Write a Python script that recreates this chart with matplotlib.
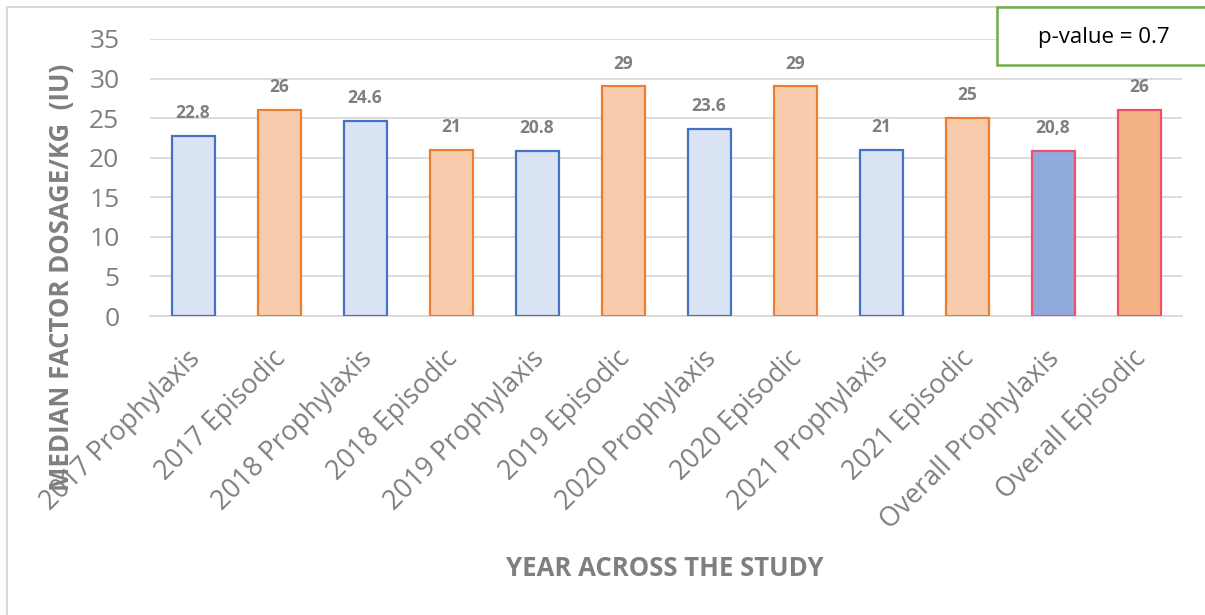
import numpy as np
import matplotlib
matplotlib.use("Agg")
import matplotlib.pyplot as plt
import matplotlib.transforms as mtransforms
from matplotlib.patches import Rectangle
from matplotlib.lines import Line2D

plt.rcParams['font.family'] = ['Open Sans', 'DejaVu Sans']

# median factor dosage per kg, by year and treatment regimen
categories = ["2017 Prophylaxis", "2017 Episodic", "2018 Prophylaxis", "2018 Episodic",
              "2019 Prophylaxis", "2019 Episodic", "2020 Prophylaxis", "2020 Episodic",
              "2021 Prophylaxis", "2021 Episodic", "Overall Prophylaxis", "Overall Episodic"]
values = [22.8, 26, 24.6, 21, 20.8, 29, 23.6, 29, 21, 25, 20.8, 26]
decimal_sep = [".", ".", ".", ".", ".", ".", ".", ".", ".", ".", ",", "."]
p_value = 0.7

fills = ["#dae3f3", "#f8cbad"] * 5 + ["#8faadc", "#f4b183"]
edges = ["#4472c4", "#ed7d31"] * 5 + ["#f0506a", "#f0506a"]
grey = "#7f7f7f"

W, H = 1205, 615
fig = plt.figure(figsize=(W / 100, H / 100), dpi=100)
ax = fig.add_axes([150 / W, 1 - 316 / H, (1182 - 150) / W, (316 - 39) / H])

x = np.arange(len(values))
ax.bar(x, values, width=0.5, color=fills, edgecolor=edges, linewidth=1.6, zorder=3)

for xi, v, sep in zip(x, values, decimal_sep):
    txt = f"{v:g}".replace(".", sep)
    ax.annotate(txt, (xi, v), xytext=(0, 16.5), textcoords="offset points",
                ha="center", va="center", fontsize=12.5, fontweight="bold", color=grey)

ax.set_xlim(-0.5, len(values) - 0.5)
ax.set_ylim(0, 35)
ax.set_yticks(np.arange(0, 36, 5))
ax.yaxis.grid(True, color="#d9d9d9", linewidth=1.3, zorder=0)
for s in ["left", "right", "top"]:
    ax.spines[s].set_visible(False)
ax.spines["bottom"].set_color("#d9d9d9")
ax.spines["bottom"].set_linewidth(1.3)
ax.tick_params(axis="both", length=0, colors=grey)
ax.tick_params(axis="y", labelsize=19, pad=22)

ax.set_xticks(x)
ax.set_xticklabels(categories, rotation=45, ha="right", va="center",
                   rotation_mode="anchor", fontsize=19.4, color=grey)
shift = mtransforms.ScaledTranslation(3 / 100, -34 / 100, fig.dpi_scale_trans)
for lab in ax.get_xticklabels():
    lab.set_transform(lab.get_transform() + shift)

fig.text(62 / W, 1 - 277 / H, "MEDIAN FACTOR DOSAGE/KG  (IU)", rotation=90,
         ha="center", va="center", fontsize=18.5, fontweight="bold", color=grey)
fig.text(665 / W, 1 - 568 / H, "YEAR ACROSS THE STUDY",
         ha="center", va="center", fontsize=18.5, fontweight="bold", color=grey)

# chart area border (only top and left edges show)
fig.add_artist(Line2D([7 / W, 7 / W], [0, 1 - 7 / H], color="#d9d9d9", linewidth=1.5))
fig.add_artist(Line2D([7 / W, 1], [1 - 7 / H, 1 - 7 / H], color="#d9d9d9", linewidth=1.5))

# p-value box
fig.add_artist(Rectangle((997 / W, 1 - 65 / H), (1215 - 997) / W, 58 / H,
                         transform=fig.transFigure, facecolor="white",
                         edgecolor="#70ad47", linewidth=1.8, zorder=5))
fig.text(1104 / W, 1 - 38 / H, f"p-value = {p_value}", ha="center", va="center",
         fontsize=16, color="black", zorder=6)

fig.savefig("out.png", dpi=100)
